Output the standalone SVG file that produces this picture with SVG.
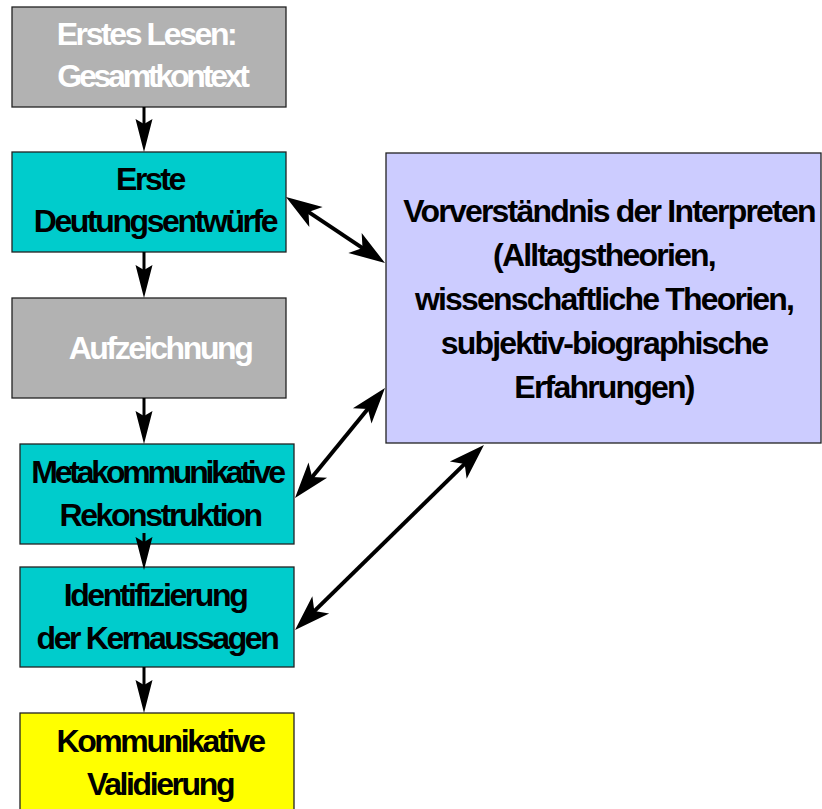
<svg xmlns="http://www.w3.org/2000/svg" width="822" height="809" viewBox="0 0 822 809">
<style>
.box{stroke:#222;stroke-width:1.3}
.gray{fill:#B2B2B2}
.teal{fill:#00CCCC}
.lav{fill:#CCCCFF}
.yel{fill:#FFFF00}
text{font-family:"Liberation Sans",Arial,sans-serif;font-weight:bold;font-size:32px;letter-spacing:-2.4px;text-anchor:middle}
.r{letter-spacing:-1.8px}
.t{letter-spacing:-3.2px}
.w{fill:#FFFFFF}
.k{fill:#000000}
.conn{stroke:#000;fill:none}
.v{stroke-width:3;marker-end:url(#vh)}
.d{stroke-width:4;marker-start:url(#dh);marker-end:url(#dh)}
</style>
<defs>
<marker id="vh" markerUnits="userSpaceOnUse" viewBox="-30 -12 45 24" markerWidth="45" markerHeight="24" refX="0" refY="0" orient="auto" overflow="visible">
<path d="M12,0 L-21,-8.5 L-16,0 L-21,8.5 Z" fill="#000"/>
</marker>
<marker id="dh" markerUnits="userSpaceOnUse" viewBox="-30 -15 45 30" markerWidth="45" markerHeight="30" refX="0" refY="0" orient="auto-start-reverse" overflow="visible">
<path d="M12,0 L-24,-12 L-15,0 L-24,12 Z" fill="#000"/>
</marker>
</defs>
<g id="n1"><rect class="box gray" x="12" y="7" width="274" height="100"/><text class="w" x="146" y="45">Erstes Lesen:</text><text class="w t" x="152" y="87">Gesamtkontext</text></g>
<g id="n2"><rect class="box teal" x="12" y="152" width="274" height="100"/><text class="k" x="150" y="190">Erste</text><text class="k" x="155" y="232">Deutungsentwürfe</text></g>
<g id="n3"><rect class="box gray" x="12" y="298" width="274" height="100"/><text class="w" x="160" y="359">Aufzeichnung</text></g>
<g id="n4"><rect class="box teal" x="20" y="444" width="274" height="100"/><text class="k t" x="157" y="483">Metakommunikative</text><text class="k" x="160" y="526">Rekonstruktion</text></g>
<g id="n5"><rect class="box teal" x="20" y="567" width="274" height="100"/><text class="k" x="155" y="606">Identifizierung</text><text class="k" x="157" y="649">der Kernaussagen</text></g>
<g id="n6"><rect class="box yel" x="20" y="713" width="274" height="100"/><text class="k" x="160" y="752">Kommunikative</text><text class="k" x="160" y="795">Validierung</text></g>
<g id="n7"><rect class="box lav" x="386" y="153" width="435" height="290"/>
<text class="k r" x="609" y="222">Vorverständnis der Interpreten</text>
<text class="k r" x="604" y="266">(Alltagstheorien,</text>
<text class="k r" x="604" y="310">wissenschaftliche Theorien,</text>
<text class="k r" x="604" y="354">subjektiv-biographische</text>
<text class="k r" x="604" y="398">Erfahrungen)</text></g>
<g id="connectors">
<path class="conn v" d="M144,107 L144,140"/>
<path class="conn v" d="M144,252 L144,286"/>
<path class="conn v" d="M144,398 L144,432"/>
<path class="conn v" d="M144,533 L144,558"/>
<path class="conn v" d="M144,667 L144,701"/>
<path class="conn d" d="M296,203.7 L375,256.3"/>
<path class="conn d" d="M377.4,397.3 L302.6,488.7"/>
<path class="conn d" d="M475.4,453.4 L303.6,621.6"/>
</g>
</svg>
